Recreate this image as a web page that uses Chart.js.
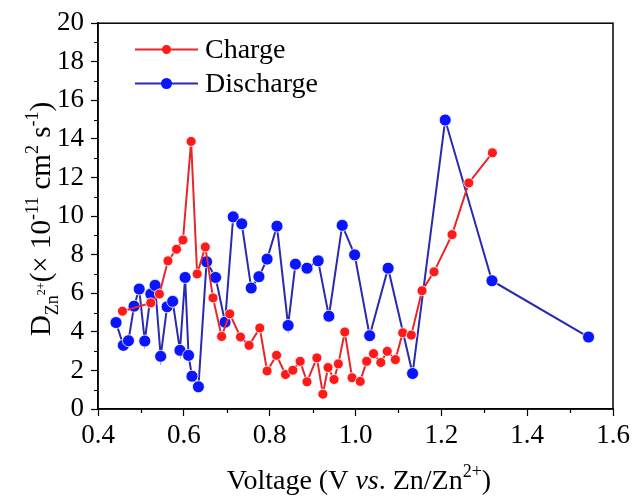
<!DOCTYPE html>
<html>
<head>
<meta charset="utf-8">
<script src="https://cdn.jsdelivr.net/npm/chart.js@4.4.1/dist/chart.umd.min.js"></script>
<style>
html,body{margin:0;padding:0;background:#fff;}
#wrap{width:635px;height:497px;position:relative;}
</style>
</head>
<body>
<div id="wrap"><canvas id="c" width="635" height="497"></canvas></div>
<script>
// ---- data ----
const chargeV = [0.457,0.523,0.543,0.563,0.583,0.598,0.617,0.631,0.650,0.668,0.688,0.707,0.732,0.752,0.777,0.794,0.816,0.837,0.854,0.871,0.887,0.910,0.924,0.936,0.950,0.960,0.975,0.992,1.011,1.026,1.042,1.059,1.074,1.093,1.110,1.130,1.155,1.183,1.225,1.264,1.319];
const chargeD = [5.07,5.50,5.96,7.68,8.28,8.76,13.87,7.00,8.40,5.76,3.76,4.93,3.73,3.30,4.20,1.97,2.78,1.79,2.01,2.47,1.41,2.65,0.77,2.15,1.53,2.34,3.99,1.62,1.43,2.47,2.87,2.41,2.99,2.56,3.95,3.83,6.13,7.11,9.04,11.72,13.28];
const dischargeV = [0.442,0.459,0.471,0.484,0.496,0.509,0.523,0.533,0.546,0.561,0.574,0.591,0.603,0.611,0.619,0.634,0.653,0.674,0.696,0.715,0.735,0.757,0.775,0.794,0.817,0.843,0.860,0.887,0.913,0.938,0.969,0.998,1.033,1.076,1.133,1.209,1.318,1.543];
const dischargeD = [4.48,3.30,3.54,5.33,6.22,3.52,5.96,6.41,2.73,5.30,5.58,3.04,6.82,2.78,1.70,1.15,7.63,6.82,4.50,9.96,9.60,6.27,6.86,7.77,9.48,4.33,7.51,7.30,7.68,4.81,9.52,7.99,3.80,7.30,1.84,14.98,6.65,3.73];
const seriesNames = ['Charge','Discharge'];
const xTicks = [0.4,0.6,0.8,1.0,1.2,1.4,1.6];
const yTicks = [0,2,4,6,8,10,12,14,16,18,20];

const toPts = (xs, ys) => xs.map((x,i)=>({x:x, y:ys[i]}));
const SERIF = '"Liberation Serif","Times New Roman",serif';

function drawRich(ctx, segs, cx, cy, rot){
  ctx.save();
  ctx.translate(cx, cy);
  ctx.rotate(rot);
  let total = 0;
  segs.forEach(s=>{ ctx.font = s.font; s.w = ctx.measureText(s.t).width; total += s.w + (s.gap||0); });
  let x = -total/2;
  ctx.fillStyle = '#000';
  ctx.textBaseline = 'alphabetic';
  ctx.textAlign = 'left';
  segs.forEach(s=>{ ctx.font = s.font; ctx.fillText(s.t, x + (s.gap||0), s.dy||0); x += s.w + (s.gap||0); });
  ctx.restore();
}

const decor = {
  id:'decor',
  afterDraw(chart){
    const ctx = chart.ctx, a = chart.chartArea;
    const xs = chart.scales.x, ys = chart.scales.y;
    ctx.save();
    ctx.strokeStyle = '#000';
    ctx.lineWidth = 1.5;
    ctx.strokeRect(a.left, a.top, a.right - a.left, a.bottom - a.top);
    // minor ticks
    ctx.lineWidth = 1.2;
    ctx.beginPath();
    for (let v = 1; v < 20; v += 2){ const p = Math.round(ys.getPixelForValue(v))+0.5; ctx.moveTo(a.left-4, p); ctx.lineTo(a.left, p); }
    for (let v = 0.5; v < 1.6; v += 0.2){ const p = Math.round(xs.getPixelForValue(v))+0.5; ctx.moveTo(p, a.bottom); ctx.lineTo(p, a.bottom+4); }
    ctx.stroke();
    // legend
    const legend = [{name:seriesNames[0], line:'#e8262a', dot:'#ff1a1a', y:49.5, r:4.5},{name:seriesNames[1], line:'#2a2ab0', dot:'#0a14ff', y:83.5, r:5.5}];
    legend.forEach(l=>{
      ctx.strokeStyle = l.line; ctx.lineWidth = 2;
      ctx.beginPath(); ctx.moveTo(135, l.y); ctx.lineTo(198, l.y); ctx.stroke();
      ctx.fillStyle = l.dot; ctx.beginPath(); ctx.arc(166.5, l.y, l.r, 0, Math.PI*2); ctx.fill();
      ctx.fillStyle = '#000'; ctx.font = '28px '+SERIF; ctx.textBaseline = 'middle'; ctx.textAlign='left';
      ctx.fillText(l.name, 205, l.y+1);
    });
    ctx.restore();
    // axis titles
    const big = '29px '+SERIF, sm = '18px '+SERIF, tiny = '12px '+SERIF;
    drawRich(ctx, [
      {t:'D', font:big},
      {t:'Zn', font:sm, dy:8},
      {t:'2+', font:tiny, dy:-5},
      {t:'(\u00d7 10', font:big},
      {t:'-11', font:sm, dy:-12},
      {t:' cm', font:big},
      {t:'2', font:sm, dy:-12},
      {t:' s', font:big},
      {t:'-1', font:sm, dy:-12},
      {t:')', font:big}
    ], 50, 219, -Math.PI/2);
    drawRich(ctx, [
      {t:'Voltage (V ', font:'28px '+SERIF},
      {t:'vs', font:'italic 28px '+SERIF},
      {t:'. Zn/Zn', font:'28px '+SERIF},
      {t:'2+', font:sm, dy:-12},
      {t:')', font:'28px '+SERIF}
    ], 359, 489, 0);
  }
};

new Chart(document.getElementById('c'), {
  type:'scatter',
  data:{ datasets:[
    { label:seriesNames[0], data:toPts(chargeV, chargeD), showLine:true, borderColor:'#e8262a', borderWidth:2,
      pointBackgroundColor:'#ff1a1a', pointBorderColor:'#ffffff', pointBorderWidth:0.8, pointRadius:5, pointHoverRadius:5, tension:0 },
    { label:seriesNames[1], data:toPts(dischargeV, dischargeD), showLine:true, borderColor:'#2a2ab0', borderWidth:2,
      pointBackgroundColor:'#0a14ff', pointBorderColor:'#ffffff', pointBorderWidth:0.8, pointRadius:6, pointHoverRadius:6, tension:0 }
  ]},
  options:{
    responsive:false, animation:false, events:[],
    layout:{ padding:{ top:21, right:22, left:0, bottom:0 } },
    plugins:{ legend:{display:false}, tooltip:{enabled:false} },
    scales:{
      x:{ type:'linear', min:0.4, max:1.6,
        afterBuildTicks(s){ s.ticks = xTicks.map(v=>({value:v})); },
        afterFit(s){ s.height = 88; },
        ticks:{ font:{family:SERIF, size:27}, color:'#000', padding:4, callback:v=>Number(v).toFixed(1) },
        grid:{ drawOnChartArea:false, tickLength:7, tickColor:'#000', tickWidth:1.2 },
        border:{ color:'#000', width:1.5 }
      },
      y:{ type:'linear', min:0, max:20,
        afterBuildTicks(s){ s.ticks = yTicks.map(v=>({value:v})); },
        afterFit(s){ s.width = 98; },
        ticks:{ font:{family:SERIF, size:27}, color:'#000', padding:7, callback:v=>String(v) },
        grid:{ drawOnChartArea:false, tickLength:7, tickColor:'#000', tickWidth:1.2 },
        border:{ color:'#000', width:1.5 }
      }
    }
  },
  plugins:[decor]
});
</script>
</body>
</html>
